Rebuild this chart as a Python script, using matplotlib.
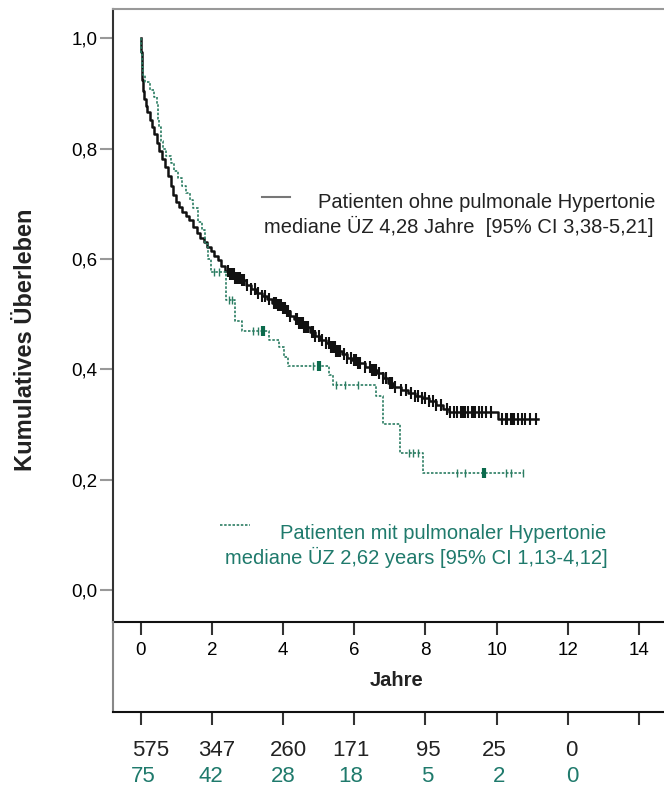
import matplotlib.pyplot as plt
import numpy as np
from matplotlib.lines import Line2D

plt.rcParams['font.family'] = ['Liberation Sans', 'DejaVu Sans']

# Kaplan-Meier: Patienten ohne pulmonale Hypertonie (Zeit in Jahren, Überleben)
ohne_t = [0.00, 0.01, 0.03, 0.05, 0.07, 0.10, 0.14, 0.19, 0.25, 0.31, 0.38, 0.45,
          0.52, 0.60, 0.68, 0.76, 0.84, 0.92, 1.00, 1.08, 1.17, 1.27, 1.37, 1.47,
          1.57, 1.67, 1.77, 1.87, 1.97, 2.07, 2.17, 2.27, 2.37, 2.50, 2.65, 2.80,
          2.95, 3.10, 3.25, 3.40, 3.55, 3.70, 3.85, 4.00, 4.10, 4.20, 4.30, 4.45,
          4.60, 4.75, 4.90, 5.05, 5.20, 5.35, 5.50, 5.65, 5.80, 5.95, 6.10, 6.30,
          6.50, 6.65, 6.80, 6.95, 7.10, 7.30, 7.50, 7.70, 7.90, 8.10, 8.30, 8.50,
          8.65, 10.05]
ohne_s = [1.000, 0.975, 0.950, 0.925, 0.905, 0.890, 0.878, 0.866, 0.852, 0.840, 0.826, 0.810,
          0.796, 0.781, 0.766, 0.750, 0.733, 0.716, 0.703, 0.694, 0.686, 0.678, 0.670, 0.658,
          0.647, 0.638, 0.630, 0.622, 0.614, 0.606, 0.598, 0.588, 0.579, 0.572, 0.566, 0.561,
          0.553, 0.546, 0.539, 0.533, 0.527, 0.521, 0.516, 0.511, 0.505, 0.497, 0.491, 0.484,
          0.476, 0.468, 0.461, 0.454, 0.447, 0.440, 0.433, 0.427, 0.421, 0.416, 0.412, 0.405,
          0.399, 0.394, 0.385, 0.376, 0.368, 0.362, 0.357, 0.352, 0.348, 0.343, 0.336, 0.328,
          0.322, 0.310]
ohne_ende = 11.15
ohne_zensiert = [2.45, 2.50, 2.55, 2.60, 2.62, 2.65, 2.70, 2.72, 2.75, 2.78, 2.85, 2.90,
                 3.00, 3.10, 3.20, 3.30, 3.40, 3.50, 3.60, 3.75, 3.80, 3.85, 3.90, 3.95,
                 4.00, 4.05, 4.10, 4.15, 4.20, 4.35, 4.40, 4.45, 4.50, 4.55, 4.60, 4.65,
                 4.70, 4.80, 4.85, 4.90, 5.00, 5.10, 5.20, 5.30, 5.35, 5.40, 5.45, 5.50,
                 5.55, 5.60, 5.70, 5.80, 5.90, 6.00, 6.05, 6.10, 6.15, 6.30, 6.45, 6.50,
                 6.55, 6.60, 6.70, 6.80, 6.90, 7.00, 7.05, 7.15, 7.30, 7.45, 7.60, 7.70,
                 7.80, 7.90, 8.00, 8.10, 8.20, 8.30, 8.45, 8.60, 8.70, 8.80, 8.90, 9.00,
                 9.05, 9.10, 9.20, 9.30, 9.35, 9.40, 9.50, 9.60, 9.70, 9.85, 10.15, 10.25,
                 10.30, 10.40, 10.45, 10.50, 10.60, 10.70, 10.80, 10.95, 11.10]

# Kaplan-Meier: Patienten mit pulmonaler Hypertonie
mit_t = [0.00, 0.02, 0.05, 0.08, 0.12, 0.25, 0.38, 0.45, 0.48, 0.52, 0.57, 0.62,
         0.72, 0.85, 0.95, 1.05, 1.15, 1.28, 1.38, 1.48, 1.62, 1.72, 1.80, 1.88,
         1.97, 2.40, 2.64, 2.86, 3.60, 3.88, 4.02, 4.14, 5.30, 5.40, 6.62, 6.80,
         7.28, 7.92]
mit_s = [1.000, 0.973, 0.947, 0.933, 0.920, 0.907, 0.893, 0.880, 0.853, 0.840, 0.813, 0.800,
         0.787, 0.773, 0.760, 0.747, 0.733, 0.720, 0.707, 0.693, 0.667, 0.653, 0.627, 0.600,
         0.577, 0.526, 0.487, 0.469, 0.453, 0.441, 0.423, 0.406, 0.390, 0.372, 0.352, 0.300,
         0.248, 0.212]
mit_ende = 10.75
mit_zensiert = [2.05, 2.20, 2.48, 2.56, 3.15, 3.30, 4.85, 5.50, 5.73, 6.10, 7.55, 7.65,
                7.80, 8.90, 9.10, 10.25, 10.40, 10.75]
mit_zensiert_mehrfach = [3.44, 5.00, 9.65]

jahre_ticks = [0, 2, 4, 6, 8, 10, 12, 14]
y_ticks = [0.0, 0.2, 0.4, 0.6, 0.8, 1.0]
y_labels = ['0,0', '0,2', '0,4', '0,6', '0,8', '1,0']

risk_ohne = ['575', '347', '260', '171', '95', '25', '0']
risk_mit = ['75', '42', '28', '18', '5', '2', '0']
risk_x_ohne = [0.28, 2.13, 4.14, 5.91, 8.07, 9.93, 12.10]
risk_x_mit = [0.07, 1.97, 4.00, 5.91, 8.05, 10.08, 12.12]

schwarz = '#111111'
gruen = '#2b7d62'
gruen_dunkel = '#0b6a4c'
gruen_text = '#1f7a6c'

W, H = 664, 790


def fx(px):
    return px / W


def fy(py):
    return 1 - py / H


def zensur_werte(t, s, c):
    idx = np.searchsorted(t, c, side='right') - 1
    return np.asarray(s)[idx]


fig = plt.figure(figsize=(W / 100, H / 100), dpi=100)
ax = fig.add_axes([fx(112.5), fy(621.7), 1 - fx(112.5), (621.7 - 9) / H])

# Überlebenskurven
t1 = np.append(ohne_t, ohne_ende)
s1 = np.append(ohne_s, ohne_s[-1])
ax.plot(t1, s1, drawstyle='steps-post', color=schwarz, lw=1.8)
ax.plot(ohne_zensiert, zensur_werte(ohne_t, ohne_s, ohne_zensiert), ls='none',
        marker='|', ms=8, mew=1.5, color=schwarz)

t2 = np.append(mit_t, mit_ende)
s2 = np.append(mit_s, mit_s[-1])
ax.plot(t2, s2, drawstyle='steps-post', color=gruen, lw=1.2, ls=(0, (1.5, 1)))
ax.plot(mit_zensiert, zensur_werte(mit_t, mit_s, mit_zensiert), ls='none',
        marker='|', ms=6, mew=1.0, color=gruen)
ax.plot(mit_zensiert_mehrfach, zensur_werte(mit_t, mit_s, mit_zensiert_mehrfach), ls='none',
        marker='|', ms=7, mew=3.0, color=gruen_dunkel)

ax.set_xlim(-0.79, 14.70)
ax.set_ylim(-0.0574, 1.053)
ax.set_xticks(jahre_ticks)
ax.set_xticklabels([str(j) for j in jahre_ticks])
ax.set_yticks(y_ticks)
ax.set_yticklabels(y_labels)
ax.tick_params(axis='x', direction='out', length=9.4, width=1.5, color='#333333',
               labelsize=13.5, pad=5.5)
ax.tick_params(axis='y', direction='out', length=9.4, width=1.5, color='#999999',
               labelsize=13.5, pad=1.5)
ax.spines['right'].set_visible(False)
ax.spines['top'].set_color('#999999')
ax.spines['top'].set_linewidth(1.5)
ax.spines['left'].set_color('#333333')
ax.spines['left'].set_linewidth(1.5)
ax.spines['bottom'].set_color('#111111')
ax.spines['bottom'].set_linewidth(1.5)

# Beschriftungsfeld unter der Achse
ax2 = fig.add_axes([fx(112.5), fy(711.7), 1 - fx(112.5), 90 / H])
ax2.set_xlim(-0.79, 14.70)
ax2.set_ylim(0, 1)
ax2.set_xticks(jahre_ticks)
ax2.set_xticklabels([])
ax2.set_yticks([])
ax2.tick_params(axis='x', direction='out', length=9.4, width=1.5, color='#333333')
ax2.spines['top'].set_visible(False)
ax2.spines['right'].set_visible(False)
ax2.spines['left'].set_color('#888888')
ax2.spines['left'].set_linewidth(1.5)
ax2.spines['bottom'].set_color('#111111')
ax2.spines['bottom'].set_linewidth(1.5)
ax2.patch.set_alpha(0)
ax2.text(7.2, 0.352, 'Jahre', ha='center', va='center', fontsize=14.5,
         fontweight='bold', color='#222222')

# Patienten unter Risiko
for x, n in zip(risk_x_ohne, risk_ohne):
    ax2.text(x, -0.433, n, ha='center', va='center', fontsize=16, color='#222222')
for x, n in zip(risk_x_mit, risk_mit):
    ax2.text(x, -0.722, n, ha='center', va='center', fontsize=16, color=gruen_text)

fig.text(fx(26), fy(340), 'Kumulatives Überleben', rotation=90, ha='center',
         va='center', fontsize=17, fontweight='bold', color='#222222')

# Legende
fig.add_artist(Line2D([fx(262), fx(290)], [fy(197), fy(197)], color='#777777', lw=1.5))
fig.text(fx(318), fy(208), 'Patienten ohne pulmonale Hypertonie', fontsize=14.5,
         color='#222222', va='baseline')
fig.text(fx(264), fy(233), 'mediane ÜZ 4,28 Jahre  [95% CI 3,38-5,21]', fontsize=14.5,
         color='#222222', va='baseline')

fig.add_artist(Line2D([fx(220), fx(250)], [fy(525), fy(525)], color=gruen, lw=1.2,
                      ls=(0, (1.5, 1))))
fig.text(fx(280), fy(539), 'Patienten mit pulmonaler Hypertonie', fontsize=14.5,
         color=gruen_text, va='baseline')
fig.text(fx(225), fy(564), 'mediane ÜZ 2,62 years [95% CI 1,13-4,12]', fontsize=14.5,
         color=gruen_text, va='baseline')

fig.savefig('out.png', dpi=100)
